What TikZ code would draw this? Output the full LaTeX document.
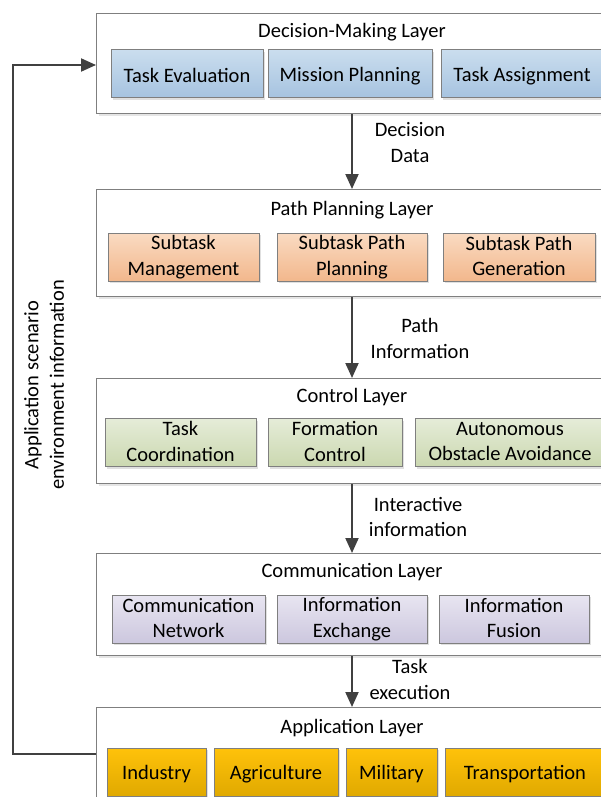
\documentclass[tikz,border=0pt]{standalone}
\usepackage{fontspec}
\setmainfont{Carlito}
\usetikzlibrary{arrows.meta,shadows}
\definecolor{bordergray}{HTML}{7F7F7F}
\definecolor{arrowgray}{HTML}{404040}
\definecolor{blueT}{HTML}{CADDEE}\definecolor{blueB}{HTML}{A6C3E0}
\definecolor{peachT}{HTML}{FADBC2}\definecolor{peachB}{HTML}{F2B78C}
\definecolor{greenT}{HTML}{E5ECD8}\definecolor{greenB}{HTML}{CBD8B0}
\definecolor{lavT}{HTML}{E8E5F1}\definecolor{lavB}{HTML}{CCC7DE}
\definecolor{goldT}{HTML}{FFC20A}\definecolor{goldB}{HTML}{E0A900}
\newcommand\mystrut{\rule[-2pt]{0pt}{20.5pt}}
\begin{document}
\begin{tikzpicture}[x=1pt,y=-1pt,
  every node/.style={font=\fontsize{20.5}{25.5}\selectfont, text=black, inner sep=0pt, align=center},
  txt/.style={execute at begin node=\mystrut, execute at end node=\mystrut},
  layer/.style={draw=bordergray, line width=1.2pt, fill=white, anchor=north west,
    drop shadow={shadow xshift=2.5pt, shadow yshift=-2.5pt, fill=black!10, opacity=1}},
  sub/.style={txt, draw=bordergray, line width=1pt, minimum height=48pt,
    drop shadow={shadow xshift=2pt, shadow yshift=-2pt, fill=black!12, opacity=1}},
  bluebox/.style={sub, top color=blueT, bottom color=blueB},
  peachbox/.style={sub, top color=peachT, bottom color=peachB},
  greenbox/.style={sub, top color=greenT, bottom color=greenB},
  lavbox/.style={sub, top color=lavT, bottom color=lavB},
  goldbox/.style={sub, top color=goldT, bottom color=goldB},
  arr/.style={draw=arrowgray, line width=2pt, -{Triangle[length=15pt,width=13pt]}},
]
\useasboundingbox (0,0) rectangle (601,797);
\clip (0,0) rectangle (601,797);

% Layers
\node[layer, minimum width=520pt, minimum height=100pt] (L1) at (96,13) {};
\node[layer, minimum width=520pt, minimum height=107pt] (L2) at (96,189) {};
\node[layer, minimum width=520pt, minimum height=105pt] (L3) at (96,378) {};
\node[layer, minimum width=520pt, minimum height=102pt] (L4) at (96,553) {};
\node[layer, minimum width=520pt, minimum height=110pt] (L5) at (96,707) {};

% Titles
\node[txt] (T1) at (352,30) {Decision-Making Layer};
\node[txt] (T2) at (352,208) {Path Planning Layer};
\node[txt] (T3) at (352,395) {Control Layer};
\node[txt] (T4) at (352,570) {Communication Layer};
\node[txt] (T5) at (352,726) {Application Layer};

% Decision-making
\node[bluebox, minimum width=152pt] (D1) at (187,74) {Task Evaluation};
\node[bluebox, minimum width=164pt] (D2) at (350,74) {Mission Planning};
\node[bluebox, minimum width=166pt] (D3) at (524,74) {\hspace*{-4pt}Task Assignment};

% Path planning
\node[peachbox, minimum width=151pt] (P1) at (183.5,257) {Subtask\\Management};
\node[peachbox, minimum width=150pt] (P2) at (352,257) {Subtask Path\\Planning};
\node[peachbox, minimum width=152pt] (P3) at (519,257) {Subtask Path\\Generation};

% Control
\node[greenbox, minimum width=151pt] (C1) at (180.5,442.5) {Task\\Coordination};
\node[greenbox, minimum width=134pt] (C2) at (335,442.5) {Formation\\Control};
\node[greenbox, minimum width=190pt] (C3) at (510,442.5) {Autonomous\\Obstacle Avoidance};

% Communication
\node[lavbox, minimum width=153pt] (M1) at (188.5,619) {Communication\\Network};
\node[lavbox, minimum width=150pt] (M2) at (352,619) {Information\\Exchange};
\node[lavbox, minimum width=150pt] (M3) at (514,619) {Information\\Fusion};

% Application
\node[goldbox, minimum width=99pt] (A1) at (156.5,772) {Industry};
\node[goldbox, minimum width=124pt] (A2) at (276,772) {Agriculture};
\node[goldbox, minimum width=91pt] (A3) at (391.5,772) {Military};
\node[goldbox, minimum width=160pt] (A4) at (525,772) {Transportation};

% Vertical arrows
\coordinate (ax) at (352,0);
\draw[arr] (L1.south -| ax) -- (L2.north -| ax);
\draw[arr] (L2.south -| ax) -- (L3.north -| ax);
\draw[arr] (L3.south -| ax) -- (L4.north -| ax);
\draw[arr] (L4.south -| ax) -- (L5.north -| ax);

% Arrow labels
\node[txt] (E1) at (410,143.5) {Decision\\Data};
\node[txt] (E2) at (420,339.5) {Path\\Information};
\node[txt] (E3) at (418,518) {Interactive\\information};
\node[txt] (E4) at (410,680.5) {Task\\execution};

% Feedback loop
\coordinate (fbA) at (96,754);
\coordinate (fbB) at (96,65);
\coordinate (fbX) at (13,0);
\draw[arr] (L5.west |- fbA) -- (fbA -| fbX) -- (fbB -| fbX) -- (L1.west |- fbB);
\node[txt, rotate=90] (FL) at (45,385) {Application scenario\\environment information};
\end{tikzpicture}
\end{document}
